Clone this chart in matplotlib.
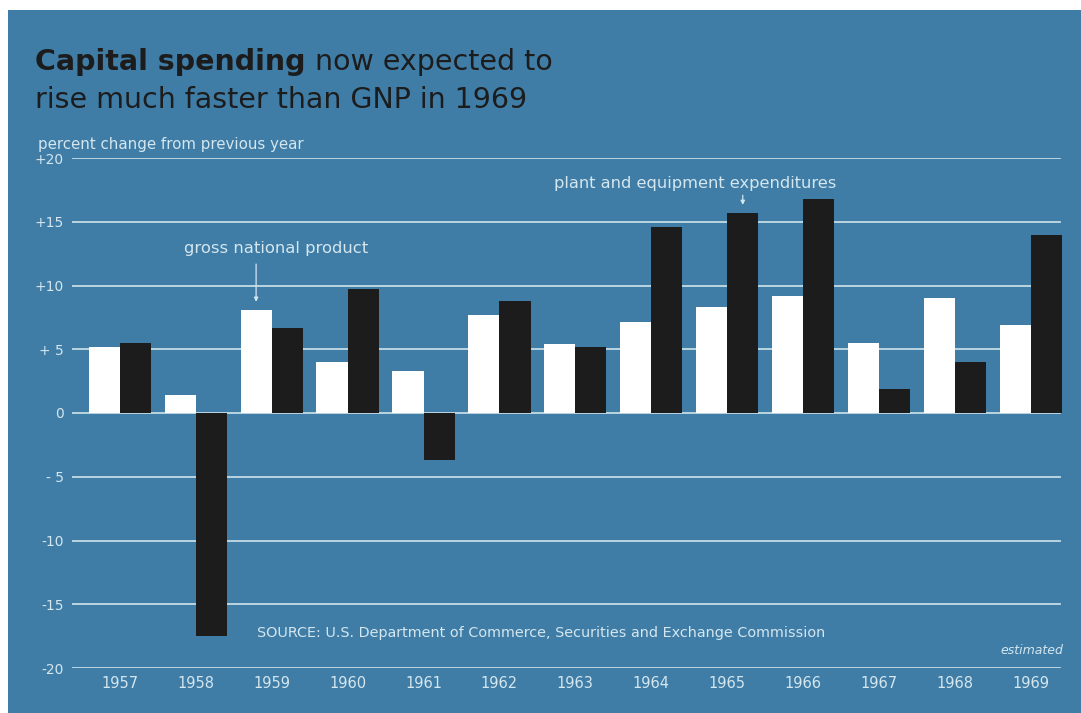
import matplotlib
matplotlib.use("Agg")
import matplotlib.pyplot as plt
from matplotlib.patches import Rectangle
import numpy as np

# Percent change from previous year
years = ["1957", "1958", "1959", "1960", "1961", "1962", "1963",
         "1964", "1965", "1966", "1967", "1968", "1969"]
gnp = [5.2, 1.4, 8.1, 4.0, 3.3, 7.7, 5.4, 7.1, 8.3, 9.2, 5.5, 9.0, 6.9]
plant_equipment = [5.5, -17.5, 6.7, 9.7, -3.7, 8.8, 5.2, 14.6, 15.7, 16.8, 1.9, 4.0, 14.0]
y_ticks = [20, 15, 10, 5, 0, -5, -10, -15, -20]
y_tick_labels = ["+20", "+15", "+10", "+ 5", "0", "- 5", "-10", "-15", "-20"]

BLUE = "#3f7da7"
PALE = "#d4e6ee"
GRID = "#c5dde6"
DARK = "#1c1c1c"
FONT = "DejaVu Sans"

W, H = 1081, 713
fig = plt.figure(figsize=(W / 100, H / 100), dpi=100, facecolor="white")

# blue panel with a thin paper margin on the top and left
fig.patches.append(Rectangle((8 / W, 0), 1 - 8 / W, 1 - 10 / H,
                             transform=fig.transFigure, facecolor=BLUE,
                             edgecolor="none", zorder=-5))

ax = fig.add_axes([72 / W, (H - 668) / H, (1062 - 72) / W, (668 - 158) / H])
ax.set_facecolor("none")
for s in ax.spines.values():
    s.set_visible(False)

x = np.arange(len(years))
bw = 0.41
ax.bar(x - bw / 2, gnp, width=bw, color="white", zorder=3)
ax.bar(x + bw / 2, plant_equipment, width=bw, color=DARK, zorder=3)

ax.set_xlim(-0.63, 12.41)
ax.set_ylim(-20, 20)
for t in y_ticks:
    ax.axhline(t, xmin=0, xmax=0.998, color=GRID, lw=1.3, zorder=1)

ax.set_yticks(y_ticks)
ax.set_yticklabels(y_tick_labels, fontfamily=FONT, fontsize=10, color=PALE)
ax.set_xticks(x)
ax.set_xticklabels(years, fontfamily=FONT, fontsize=10.5, color=PALE)
ax.tick_params(axis="y", length=0, pad=6)
ax.tick_params(axis="x", length=0, pad=6)
for lbl in ax.get_yticklabels():
    lbl.set_verticalalignment("center_baseline")

# Title: bold lead-in followed by regular text
t1 = fig.text(35 / W, 1 - 70 / H, "Capital spending", fontfamily=FONT,
              fontweight="bold", fontsize=20.5, color=DARK, va="baseline")
fig.canvas.draw()
bb = t1.get_window_extent()
fig.text(bb.x1 / W, 1 - 70 / H, " now expected to", fontfamily=FONT,
         fontsize=20.5, color=DARK, va="baseline")
fig.text(35 / W, 1 - 108 / H, "rise much faster than GNP in 1969",
         fontfamily=FONT, fontsize=20.5, color=DARK, va="baseline")

fig.text(38 / W, 1 - 149 / H, "percent change from previous year",
         fontfamily=FONT, fontsize=10.8, color=PALE, va="baseline")

# Series labels with pointer ticks
fig.text(276 / W, 1 - 253 / H, "gross national product", ha="center",
         va="baseline", fontfamily=FONT, fontsize=11.8, color=PALE)
ax.annotate("", xy=(2 - bw / 2, gnp[2] + 0.4), xytext=(2 - bw / 2, 11.9),
            arrowprops=dict(arrowstyle="-|>", color=PALE, lw=0.9,
                            mutation_scale=6))
fig.text(695 / W, 1 - 188 / H, "plant and equipment expenditures",
         ha="center", va="baseline", fontfamily=FONT, fontsize=11.7,
         color=PALE)
ax.annotate("", xy=(8 + bw / 2, plant_equipment[8] + 0.4),
            xytext=(8 + bw / 2, 17.3),
            arrowprops=dict(arrowstyle="-|>", color=PALE, lw=0.9,
                            mutation_scale=6))

fig.text(257 / W, 1 - 637 / H,
         "SOURCE: U.S. Department of Commerce, Securities and Exchange Commission",
         fontfamily=FONT, fontsize=10.4, color=PALE, va="baseline")
fig.text(1063 / W, 1 - 654 / H, "estimated", fontfamily=FONT, fontsize=9,
         style="italic", color=PALE, ha="right", va="baseline")

fig.savefig("out.png", dpi=100, facecolor="white")
